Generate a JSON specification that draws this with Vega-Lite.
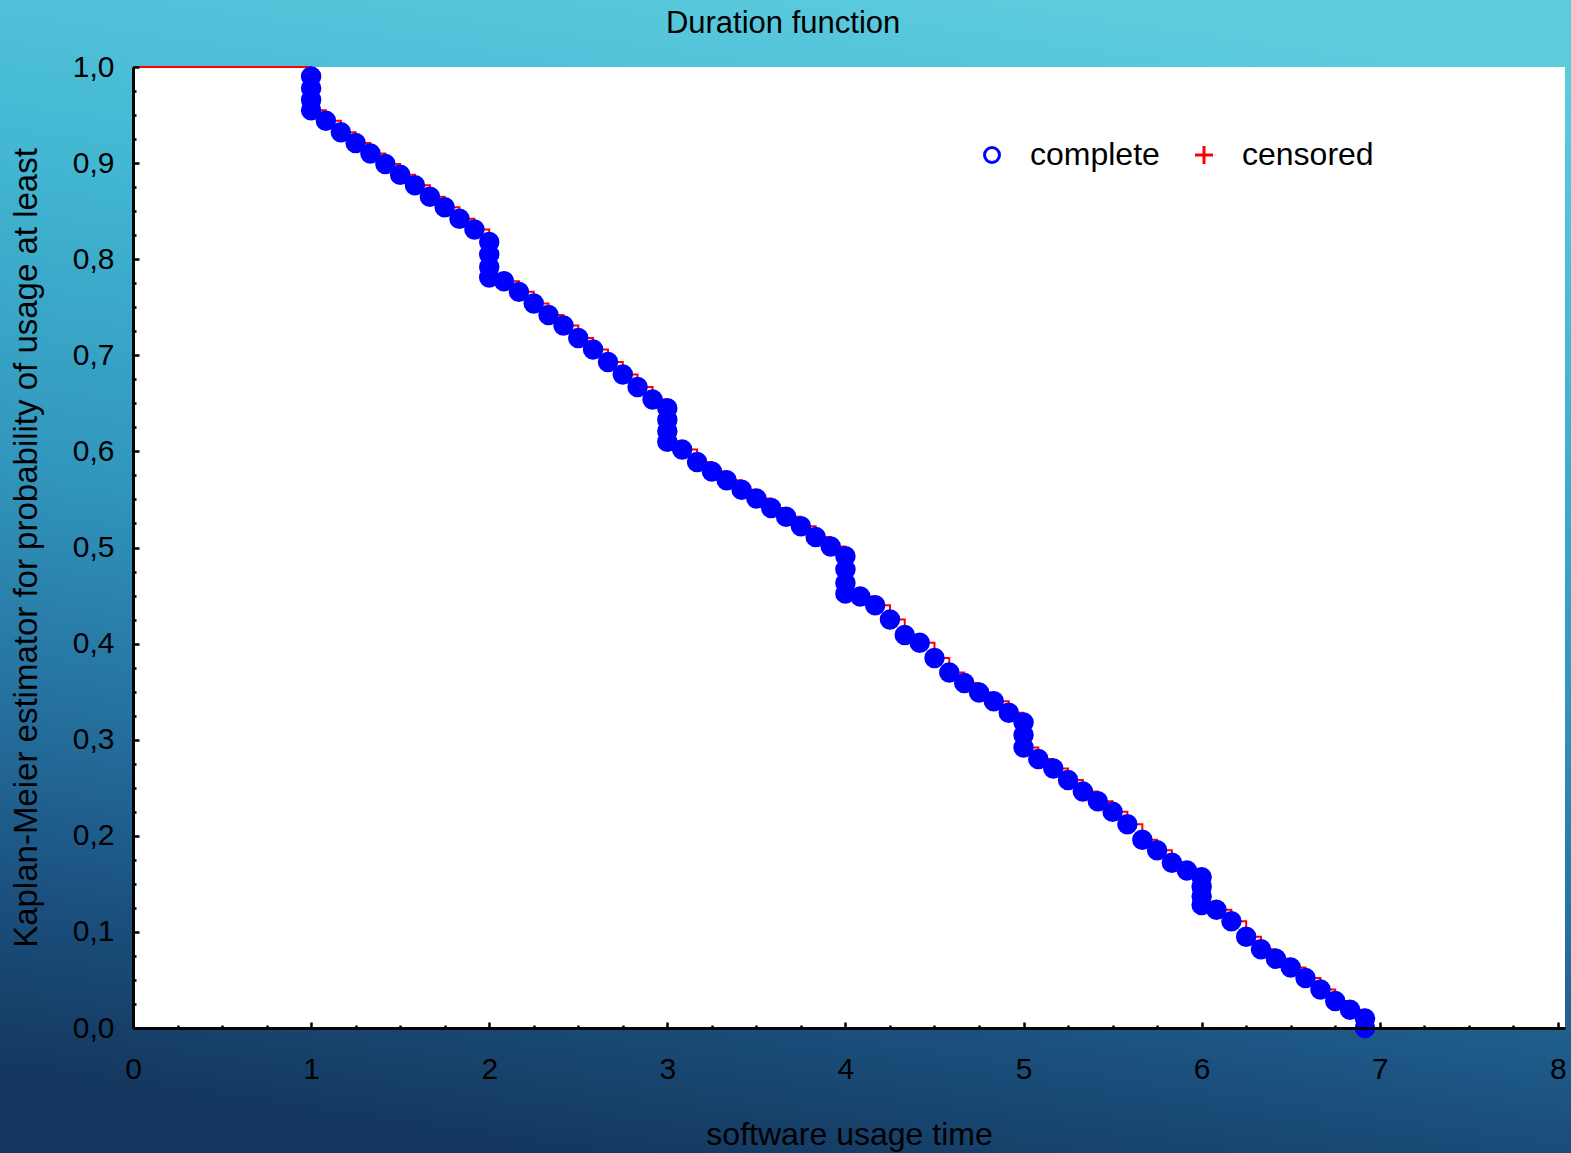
{
  "$schema": "https://vega.github.io/schema/vega-lite/v6.json",
  "width": 1432,
  "height": 961,
  "autosize": {"type": "none"},
  "padding": {"left": 133, "top": 67, "right": 6, "bottom": 125},
  "background": "#2a7fa7",
  "title": {
    "text": "Duration function",
    "font": "Liberation Sans",
    "fontSize": 31,
    "fontWeight": "normal",
    "color": "#000000",
    "anchor": "middle",
    "frame": "bounds",
    "offset": -50
  },
  "datasets": {
    "km": [
      {"t": 0, "s": 1.0, "status": "start"},
      {"t": 1.0, "s": 0.99, "status": "complete"},
      {"t": 1.0, "s": 0.978, "status": "complete"},
      {"t": 1.0, "s": 0.966, "status": "complete"},
      {"t": 1.0, "s": 0.955, "status": "complete"},
      {"t": 1.083, "s": 0.944, "status": "complete"},
      {"t": 1.167, "s": 0.932, "status": "complete"},
      {"t": 1.25, "s": 0.921, "status": "complete"},
      {"t": 1.333, "s": 0.91, "status": "complete"},
      {"t": 1.417, "s": 0.899, "status": "complete"},
      {"t": 1.5, "s": 0.888, "status": "complete"},
      {"t": 1.583, "s": 0.877, "status": "complete"},
      {"t": 1.667, "s": 0.865, "status": "complete"},
      {"t": 1.75, "s": 0.854, "status": "complete"},
      {"t": 1.833, "s": 0.842, "status": "complete"},
      {"t": 1.917, "s": 0.831, "status": "complete"},
      {"t": 2.0, "s": 0.818, "status": "complete"},
      {"t": 2.0, "s": 0.805, "status": "complete"},
      {"t": 2.0, "s": 0.792, "status": "complete"},
      {"t": 2.0, "s": 0.781, "status": "complete"},
      {"t": 2.083, "s": 0.777, "status": "complete"},
      {"t": 2.167, "s": 0.766, "status": "complete"},
      {"t": 2.25, "s": 0.754, "status": "complete"},
      {"t": 2.333, "s": 0.742, "status": "complete"},
      {"t": 2.417, "s": 0.731, "status": "complete"},
      {"t": 2.5, "s": 0.718, "status": "complete"},
      {"t": 2.583, "s": 0.706, "status": "complete"},
      {"t": 2.667, "s": 0.693, "status": "complete"},
      {"t": 2.75, "s": 0.68, "status": "complete"},
      {"t": 2.833, "s": 0.667, "status": "complete"},
      {"t": 2.917, "s": 0.654, "status": "complete"},
      {"t": 3.0, "s": 0.645, "status": "complete"},
      {"t": 3.0, "s": 0.633, "status": "complete"},
      {"t": 3.0, "s": 0.621, "status": "complete"},
      {"t": 3.0, "s": 0.61, "status": "complete"},
      {"t": 3.083, "s": 0.602, "status": "complete"},
      {"t": 3.167, "s": 0.589, "status": "complete"},
      {"t": 3.25, "s": 0.579, "status": "complete"},
      {"t": 3.333, "s": 0.57, "status": "complete"},
      {"t": 3.417, "s": 0.56, "status": "complete"},
      {"t": 3.5, "s": 0.551, "status": "complete"},
      {"t": 3.583, "s": 0.541, "status": "complete"},
      {"t": 3.667, "s": 0.532, "status": "complete"},
      {"t": 3.75, "s": 0.522, "status": "complete"},
      {"t": 3.833, "s": 0.511, "status": "complete"},
      {"t": 3.917, "s": 0.501, "status": "complete"},
      {"t": 4.0, "s": 0.491, "status": "complete"},
      {"t": 4.0, "s": 0.477, "status": "complete"},
      {"t": 4.0, "s": 0.463, "status": "complete"},
      {"t": 4.0, "s": 0.452, "status": "complete"},
      {"t": 4.083, "s": 0.449, "status": "complete"},
      {"t": 4.167, "s": 0.44, "status": "complete"},
      {"t": 4.25, "s": 0.425, "status": "complete"},
      {"t": 4.333, "s": 0.409, "status": "complete"},
      {"t": 4.417, "s": 0.401, "status": "complete"},
      {"t": 4.5, "s": 0.385, "status": "complete"},
      {"t": 4.583, "s": 0.37, "status": "complete"},
      {"t": 4.667, "s": 0.359, "status": "complete"},
      {"t": 4.75, "s": 0.349, "status": "complete"},
      {"t": 4.833, "s": 0.34, "status": "complete"},
      {"t": 4.917, "s": 0.328, "status": "complete"},
      {"t": 5.0, "s": 0.318, "status": "complete"},
      {"t": 5.0, "s": 0.305, "status": "complete"},
      {"t": 5.0, "s": 0.292, "status": "complete"},
      {"t": 5.083, "s": 0.28, "status": "complete"},
      {"t": 5.167, "s": 0.27, "status": "complete"},
      {"t": 5.25, "s": 0.258, "status": "complete"},
      {"t": 5.333, "s": 0.246, "status": "complete"},
      {"t": 5.417, "s": 0.236, "status": "complete"},
      {"t": 5.5, "s": 0.225, "status": "complete"},
      {"t": 5.583, "s": 0.212, "status": "complete"},
      {"t": 5.667, "s": 0.196, "status": "complete"},
      {"t": 5.75, "s": 0.185, "status": "complete"},
      {"t": 5.833, "s": 0.172, "status": "complete"},
      {"t": 5.917, "s": 0.164, "status": "complete"},
      {"t": 6.0, "s": 0.157, "status": "complete"},
      {"t": 6.0, "s": 0.147, "status": "complete"},
      {"t": 6.0, "s": 0.137, "status": "complete"},
      {"t": 6.0, "s": 0.128, "status": "complete"},
      {"t": 6.083, "s": 0.123, "status": "complete"},
      {"t": 6.167, "s": 0.111, "status": "complete"},
      {"t": 6.25, "s": 0.095, "status": "complete"},
      {"t": 6.333, "s": 0.082, "status": "complete"},
      {"t": 6.417, "s": 0.072, "status": "complete"},
      {"t": 6.5, "s": 0.063, "status": "complete"},
      {"t": 6.583, "s": 0.052, "status": "complete"},
      {"t": 6.667, "s": 0.04, "status": "complete"},
      {"t": 6.75, "s": 0.028, "status": "complete"},
      {"t": 6.833, "s": 0.019, "status": "complete"},
      {"t": 6.917, "s": 0.01, "status": "complete"},
      {"t": 6.917, "s": 0.0, "status": "complete"}
    ]
  },
  "layer": [
    {
      "description": "slide-style gradient backdrop behind the whole figure",
      "data": {"values": [{}]},
      "mark": {
        "type": "rect",
        "clip": false,
        "fill": {
          "gradient": "linear",
          "x1": 0.6, "y1": 0, "x2": 0.4, "y2": 1,
          "stops": [
            {"offset": 0, "color": "#5ccbde"},
            {"offset": 0.25, "color": "#42b6d2"},
            {"offset": 0.5, "color": "#3196bd"},
            {"offset": 0.7, "color": "#25709e"},
            {"offset": 0.85, "color": "#1b517f"},
            {"offset": 1, "color": "#14385f"}
          ]
        }
      },
      "encoding": {
        "x": {"datum": -0.8, "type": "quantitative", "scale": {"domain": [0, 8.04], "nice": false, "zero": false}, "axis": null},
        "x2": {"datum": 8.1},
        "y": {"datum": -0.14, "type": "quantitative", "scale": {"domain": [0, 1], "nice": false, "zero": false}, "axis": null},
        "y2": {"datum": 1.08}
      }
    },
    {
      "description": "white plotting area, carrying the minor tick marks",
      "data": {"values": [{}]},
      "mark": {"type": "rect", "fill": "#ffffff", "clip": false},
      "encoding": {
        "x": {
          "datum": 0, "type": "quantitative",
          "scale": {"domain": [0, 8.04], "nice": false, "zero": false},
          "axis": {
            "orient": "bottom",
            "values": [0.25, 0.5, 0.75, 1.25, 1.5, 1.75, 2.25, 2.5, 2.75, 3.25, 3.5, 3.75, 4.25, 4.5, 4.75, 5.25, 5.5, 5.75, 6.25, 6.5, 6.75, 7.25, 7.5, 7.75],
            "labels": false, "domain": false, "title": null,
            "tickSize": -3, "tickWidth": 2.5, "zindex": 2
          }
        },
        "x2": {"datum": 8.04},
        "y": {
          "datum": 0, "type": "quantitative",
          "scale": {"domain": [0, 1], "nice": false, "zero": false},
          "axis": {
            "orient": "left",
            "values": [0.025, 0.05, 0.075, 0.125, 0.15, 0.175, 0.225, 0.25, 0.275, 0.325, 0.35, 0.375, 0.425, 0.45, 0.475, 0.525, 0.55, 0.575, 0.625, 0.65, 0.675, 0.725, 0.75, 0.775, 0.825, 0.85, 0.875, 0.925, 0.95, 0.975],
            "labels": false, "domain": false, "title": null,
            "tickSize": -3, "tickWidth": 2.5, "zindex": 2
          }
        },
        "y2": {"datum": 1}
      }
    },
    {
      "description": "Kaplan-Meier step curve",
      "data": {"name": "km"},
      "mark": {"type": "line", "interpolate": "step-after", "color": "#ff0000", "strokeWidth": 2},
      "encoding": {
        "x": {"field": "t", "type": "quantitative", "scale": {"domain": [0, 8.04], "nice": false, "zero": false}, "axis": null},
        "y": {"field": "s", "type": "quantitative", "scale": {"domain": [0, 1], "nice": false, "zero": false}, "axis": null}
      }
    },
    {
      "description": "complete observations",
      "data": {"name": "km"},
      "transform": [{"filter": "datum.status === 'complete'"}],
      "mark": {"type": "point", "filled": false, "size": 110, "strokeWidth": 10, "opacity": 1},
      "encoding": {
        "x": {
          "field": "t", "type": "quantitative",
          "scale": {"domain": [0, 8.04], "nice": false, "zero": false},
          "axis": {
            "orient": "bottom",
            "values": [0, 1, 2, 3, 4, 5, 6, 7, 8],
            "format": "d",
            "title": "software usage time",
            "tickSize": -6, "tickWidth": 2.5,
            "domainWidth": 3,
            "labelFontSize": 30, "labelPadding": 32, "labelFlush": false,
            "titleFontSize": 32, "titlePadding": 35,
            "zindex": 2
          }
        },
        "y": {
          "field": "s", "type": "quantitative",
          "scale": {"domain": [0, 1], "nice": false, "zero": false},
          "axis": {
            "orient": "left",
            "values": [0, 0.1, 0.2, 0.3, 0.4, 0.5, 0.6, 0.7, 0.8, 0.9, 1.0],
            "labelExpr": "replace(format(datum.value, '.1f'), '.', ',')",
            "title": "Kaplan-Meier estimator for probability of usage at least",
            "tickSize": -6, "tickWidth": 2.5,
            "domainWidth": 3,
            "labelFontSize": 30, "labelPadding": 25, "labelFlush": false,
            "titleFontSize": 33, "titlePadding": 29,
            "zindex": 2
          }
        },
        "color": {
          "field": "status", "type": "nominal",
          "scale": {"domain": ["complete", "censored"], "range": ["#0000ff", "#ff0000"]},
          "legend": {
            "title": null,
            "orient": "none",
            "legendX": 843,
            "legendY": 72,
            "direction": "horizontal",
            "padding": 0,
            "symbolSize": 225,
            "symbolStrokeWidth": 3,
            "labelFont": "Liberation Sans",
            "labelFontSize": 32,
            "labelColor": "#000000",
            "labelOffset": 22,
            "columnPadding": 28,
            "labelLimit": 400,
            "encode": {
              "symbols": {
                "update": {
                  "strokeWidth": {"signal": "datum.value === 'censored' ? 1.6 : 3"}
                }
              }
            }
          }
        },
        "shape": {
          "field": "status", "type": "nominal",
          "scale": {"domain": ["complete", "censored"], "range": ["circle", "M-1.2,0H1.2M0,-1.2V1.2"]}
        }
      }
    }
  ],
  "resolve": {"scale": {"x": "independent", "y": "independent"}},
  "config": {
    "font": "Liberation Sans",
    "view": {"stroke": null},
    "axis": {
      "labelFont": "Liberation Sans",
      "titleFont": "Liberation Sans",
      "labelColor": "#000000",
      "titleColor": "#000000",
      "titleFontWeight": "normal",
      "domainColor": "#000000",
      "tickColor": "#000000",
      "grid": false
    }
  }
}
